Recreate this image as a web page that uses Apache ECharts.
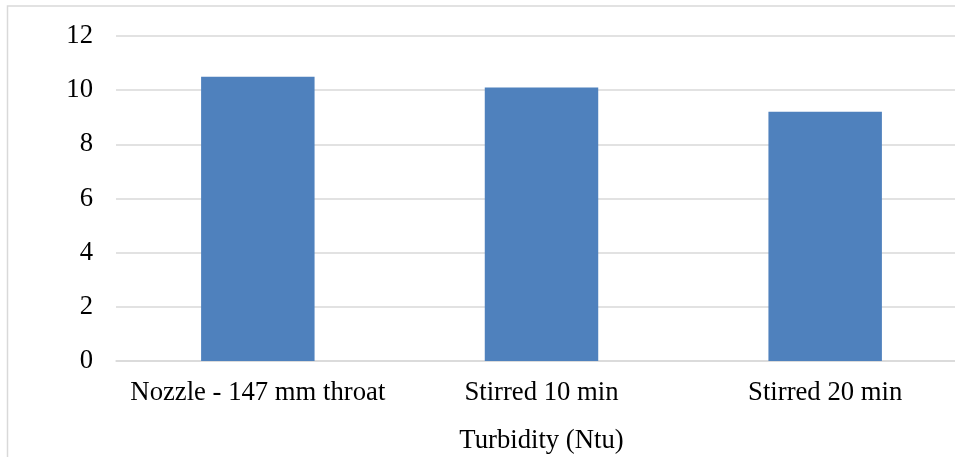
<!DOCTYPE html>
<html>
<head>
<meta charset="utf-8">
<script src="https://cdn.jsdelivr.net/npm/echarts@6/dist/echarts.min.js"></script>
<style>
  html, body { margin: 0; padding: 0; background: #ffffff; }
  #chart { width: 955px; height: 457px; }
</style>
</head>
<body>
<div id="chart"></div>
<script>
// Turbidity readings for each treatment
const categories = ['Nozzle - 147 mm throat', 'Stirred 10 min', 'Stirred 20 min'];
const turbidity = [10.5, 10.1, 9.2];
const yTicks = { min: 0, max: 12, interval: 2 };
const axisTitle = 'Turbidity (Ntu)';

const serif = '"Liberation Serif", "Times New Roman", serif';
const textSize = 26.7;
const chart = echarts.init(document.getElementById('chart'), null, { renderer: 'canvas' });

chart.setOption({
  backgroundColor: '#ffffff',
  animation: false,
  graphic: [{
    type: 'rect',
    silent: true,
    z: -10,
    shape: { x: 7.5, y: 6, width: 1000, height: 500 },
    style: { fill: 'none', stroke: '#d9d9d9', lineWidth: 1.5 }
  }],
  // plot area runs slightly past the right edge of the canvas
  grid: {
    left: 116, width: 851, top: 36, height: 325,
    containLabel: false, outerBoundsMode: 'none'
  },
  xAxis: {
    type: 'category',
    data: categories,
    name: axisTitle,
    nameLocation: 'middle',
    nameGap: 66,
    nameTextStyle: { fontFamily: serif, fontSize: textSize, color: '#000000' },
    axisLine: { show: true, lineStyle: { color: '#d9d9d9', width: 1.5 } },
    axisTick: { show: false },
    axisLabel: { fontFamily: serif, fontSize: textSize, color: '#000000', margin: 18, interval: 0 }
  },
  yAxis: {
    type: 'value',
    min: yTicks.min,
    max: yTicks.max,
    interval: yTicks.interval,
    axisLine: { show: false },
    axisTick: { show: false },
    splitLine: { lineStyle: { color: '#d9d9d9', width: 1.5 } },
    axisLabel: { fontFamily: serif, fontSize: textSize, color: '#000000', margin: 23 }
  },
  series: [{
    type: 'bar',
    data: turbidity,
    barWidth: '40%',
    itemStyle: { color: '#4f81bd' }
  }]
});
</script>
</body>
</html>
